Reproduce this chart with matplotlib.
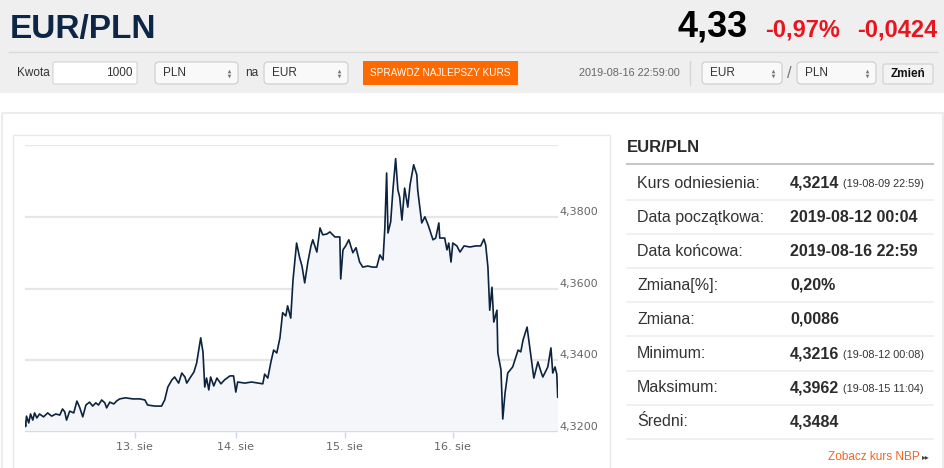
import matplotlib
matplotlib.use("Agg")
from matplotlib import pyplot as plt
from matplotlib.patches import FancyBboxPatch, Rectangle
from matplotlib import transforms

# EUR/PLN intraday, 12-16 Aug 2019 (hours from 12 Aug 00:00 on the chart axis)
hours = [0.07, 0.2, 0.4, 0.9, 1.3, 1.8, 2.2, 2.7, 3.3, 4.2, 5.1, 6.0, 6.9, 7.8,
         8.4, 8.9, 9.3, 10.0, 10.9, 11.6, 12.2, 12.9, 13.6, 14.4, 15.1, 15.8,
         16.4, 17.1, 17.8, 18.2, 18.9, 19.8, 20.4, 21.1, 22.4, 24.0, 25.6,
         26.7, 27.3, 28.9, 30.4, 31.1, 31.8, 32.7, 33.3, 34.2, 34.9, 35.6,
         36.0, 36.7, 37.6, 38.2, 39.1, 39.6, 40.0, 40.4, 40.9, 41.3, 42.0,
         42.7, 43.6, 44.4, 45.6, 46.4, 46.9, 47.3, 48.9, 50.4, 52.0, 52.9,
         53.3, 54.0, 54.7, 55.3, 56.0, 56.7, 57.3, 58.0, 58.4, 59.1, 59.6,
         60.4, 61.1, 61.6, 62.2, 62.9, 63.6, 64.0, 64.9, 65.6, 66.2, 67.1,
         67.8, 68.9, 70.0, 70.2, 70.7, 71.3, 72.0, 72.9, 73.6, 74.4, 75.1,
         76.2, 77.3, 78.2, 78.9, 79.6, 80.0, 80.4, 80.7, 81.3, 81.8, 82.4,
         82.9, 83.3, 83.8, 84.4, 85.1, 85.6, 86.4, 87.1, 87.3, 88.2, 88.9,
         89.6, 90.7, 91.3, 92.0, 92.2, 93.3, 93.8, 94.2, 94.7, 95.1, 96.0,
         96.7, 97.6, 98.9, 100.2, 101.3, 102.0, 102.4, 102.9, 103.3, 103.8,
         104.2, 104.9, 105.1, 105.8, 106.2, 106.7, 107.3, 108.4, 109.6, 110.2,
         110.7, 111.6, 112.2, 113.1, 114.0, 114.7, 115.1, 116.2, 116.9, 117.3,
         117.8, 118.2, 118.4]
rates = [4.3229, 4.3216, 4.3245, 4.3226, 4.3251, 4.3234, 4.3254, 4.3240,
         4.3251, 4.3243, 4.3254, 4.3245, 4.3251, 4.3248, 4.3265, 4.3257,
         4.3234, 4.3259, 4.3254, 4.3287, 4.3270, 4.3243, 4.3276, 4.3284,
         4.3273, 4.3282, 4.3276, 4.3290, 4.3282, 4.3268, 4.3284, 4.3279,
         4.3287, 4.3293, 4.3296, 4.3293, 4.3293, 4.3290, 4.3276, 4.3273,
         4.3273, 4.3290, 4.3326, 4.3346, 4.3354, 4.3337, 4.3365, 4.3354,
         4.3337, 4.3351, 4.3368, 4.3393, 4.3463, 4.3424, 4.3326, 4.3351,
         4.3318, 4.3354, 4.3329, 4.3351, 4.3335, 4.3346, 4.3357, 4.3357,
         4.3312, 4.3340, 4.3337, 4.3340, 4.3337, 4.3335, 4.3362, 4.3351,
         4.3396, 4.3429, 4.3421, 4.3463, 4.3533, 4.3524, 4.3552, 4.3518,
         4.3624, 4.3727, 4.3685, 4.3663, 4.3616, 4.3674, 4.3719, 4.3736,
         4.3702, 4.3769, 4.3750, 4.3752, 4.3758, 4.3744, 4.3744, 4.3627,
         4.3708, 4.3719, 4.3736, 4.3700, 4.3714, 4.3674, 4.3660, 4.3663,
         4.3660, 4.3660, 4.3694, 4.3680, 4.3769, 4.3922, 4.3755, 4.3786,
         4.3875, 4.3962, 4.3875, 4.3855, 4.3791, 4.3880, 4.3827, 4.3889,
         4.3945, 4.3917, 4.3875, 4.3783, 4.3800, 4.3778, 4.3736, 4.3741,
         4.3783, 4.3741, 4.3741, 4.3708, 4.3727, 4.3674, 4.3727, 4.3719,
         4.3702, 4.3719, 4.3716, 4.3719, 4.3719, 4.3738, 4.3722, 4.3660,
         4.3540, 4.3604, 4.3507, 4.3540, 4.3421, 4.3374, 4.3237, 4.3309,
         4.3365, 4.3382, 4.3429, 4.3424, 4.3457, 4.3493, 4.3437, 4.3351,
         4.3396, 4.3368, 4.3354, 4.3382, 4.3435, 4.3365, 4.3382, 4.3362,
         4.3298]

day_ticks = [24.4, 46.9, 71.1, 95.1]
day_labels = ["13. sie", "14. sie", "15. sie", "16. sie"]
rate_grid = [4.32, 4.34, 4.36, 4.38, 4.40]
rate_labels = [4.32, 4.34, 4.36, 4.38]

stat_labels = ["Kurs odniesienia:", "Data początkowa:", "Data końcowa:",
               "Zmiana[%]:", "Zmiana:", "Minimum:", "Maksimum:", "Średni:"]
stat_values = ["4,3214", "2019-08-12 00:04", "2019-08-16 22:59", "0,20%",
               "0,0086", "4,3216", "4,3962", "4,3484"]
stat_notes = ["(19-08-09 22:59)", "", "", "", "", "(19-08-12 00:08)",
              "(19-08-15 11:04)", ""]

plt.rcParams["font.family"] = ["Liberation Sans", "DejaVu Sans"]
W, H = 945, 468
fig = plt.figure(figsize=(W / 100, H / 100), dpi=100)
fig.patch.set_facecolor("white")

# page background in pixel coordinates
bg = fig.add_axes([0, 0, 1, 1], zorder=0)
bg.set_xlim(0, W)
bg.set_ylim(H, 0)
bg.axis("off")

bg.add_patch(Rectangle((0, 0), W, 93, color="#efefef", lw=0))
bg.plot([9, 937], [52, 52], color="#dadada", lw=1)
bg.add_patch(Rectangle((2, 113), W - 4, 400, fill=False, ec="#ececec", lw=1.5))
bg.add_patch(Rectangle((13, 135), 597, 400, fill=False, ec="#e8e8e8", lw=1))

bg.text(10, 38, "EUR/PLN", fontsize=24, fontweight="bold", color="#0e2646",
        va="baseline")
bg.text(748, 37, "4,33", fontsize=26, fontweight="bold", color="black",
        ha="right", va="baseline")
bg.text(840, 37, "-0,97%", fontsize=17, fontweight="bold", color="#e8141e",
        ha="right", va="baseline")
bg.text(937, 37, "-0,0424", fontsize=17, fontweight="bold", color="#e8141e",
        ha="right", va="baseline")


def box(x0, x1, y0, y1, fc="#f9f9f9", ec="#cccccc", r=4):
    bg.add_patch(FancyBboxPatch((x0, y0), x1 - x0, y1 - y0,
                                boxstyle="round,pad=0,rounding_size=%d" % r,
                                fc=fc, ec=ec, lw=0.8))


def select(x0, x1, label):
    box(x0, x1, 62, 84)
    bg.text(x0 + 8, 73, label, fontsize=8.5, color="#333333", va="center")
    bg.plot([x1 - 9], [70.5], marker="^", ms=2.6, color="#777777", mew=0)
    bg.plot([x1 - 9], [75.5], marker="v", ms=2.6, color="#777777", mew=0)


bg.text(17, 73, "Kwota", fontsize=8.5, color="#333333", va="center")
box(53, 137, 62, 84, fc="white", ec="#d4d4d4", r=2)
bg.text(133, 73, "1000", fontsize=8.5, color="#333333", va="center", ha="right")
select(155, 238, "PLN")
bg.text(245, 73, "na", fontsize=8.5, color="#333333", va="center")
select(264, 348, "EUR")
bg.add_patch(Rectangle((363, 61), 155, 24, color="#ff6a00", lw=0))
bg.text(440.5, 73, "SPRAWDŹ NAJLEPSZY KURS", fontsize=7.2, color="white",
        ha="center", va="center")
bg.text(680, 73, "2019-08-16 22:59:00", fontsize=7.8, color="#666666",
        ha="right", va="center")
bg.plot([690, 690], [61, 85], color="#d6d6d6", lw=1)
select(702, 782, "EUR")
bg.text(789, 74, "/", fontsize=12, color="#777777", ha="center", va="center")
select(797, 876, "PLN")
box(883, 933, 64, 84, fc="#f3f3f3", ec="#cfcfcf", r=2)
bg.text(908, 74, "Zmień", fontsize=8.5, fontweight="bold", color="#111111",
        ha="center", va="center")

# statistics panel
bg.text(627, 147, "EUR/PLN", fontsize=12, fontweight="bold", color="#2b2b2b",
        va="center")
bg.plot([627, 933], [164, 164], color="#c8c8c8", lw=1.5)
row_y = 183
for lab, val, note in zip(stat_labels, stat_values, stat_notes):
    bg.text(637, row_y, lab, fontsize=11.5, color="#333333", va="center")
    bg.text(790, row_y, val, fontsize=11.5, fontweight="bold", color="#2b2b2b",
            va="center")
    if note:
        bg.text(843, row_y + 1, note, fontsize=7.8, color="#333333", va="center")
    bg.plot([627, 933], [row_y + 17, row_y + 17], color="#eeeeee", lw=1.2)
    row_y += 34.1
bg.text(828, 457, "Zobacz kurs NBP", fontsize=8.5, color="#f26522", va="center")
bg.text(922, 457, "▸▸", fontsize=5.5, color="#444444", va="center",
        family=["DejaVu Sans"])

# the chart
ax = fig.add_axes([25 / W, 1 - 432.3 / H, (557.7 - 25) / W, (432.3 - 145) / H],
                  zorder=1)
ax.patch.set_alpha(0)
for s in ax.spines.values():
    s.set_visible(False)
for g in rate_grid:
    ax.axhline(g, color="#e6e6e6", lw=1.6, zorder=0)
ax.fill_between(hours, rates, rate_grid[0], color="#f4f6f9", lw=0, zorder=1)
ax.plot(hours, rates, color="#0c2340", lw=1.2, zorder=3)
ax.axhline(rate_grid[0], color="#ccd6eb", lw=1.2, zorder=4)
ax.set_xlim(hours[0], hours[-1])
ax.set_ylim(rate_grid[0], rate_grid[-1])
ax.set_xticks(day_ticks, day_labels)
ax.tick_params(axis="x", length=4.5, width=1, color="#ccd6eb", pad=2.5,
               labelsize=8, labelcolor="#666666")
for lab in ax.get_xticklabels():
    lab.set_family("DejaVu Sans")
ax.set_yticks([])

shift = transforms.ScaledTranslation(2 / 100, 5 / 100, fig.dpi_scale_trans)
trans = transforms.blended_transform_factory(ax.transAxes, ax.transData) + shift
for v in rate_labels:
    ax.text(1.0, v, ("%.4f" % v).replace(".", ","), transform=trans,
            fontsize=8, color="#666666", va="center", ha="left",
            family="DejaVu Sans", clip_on=False)

fig.savefig("out.png", dpi=100)
